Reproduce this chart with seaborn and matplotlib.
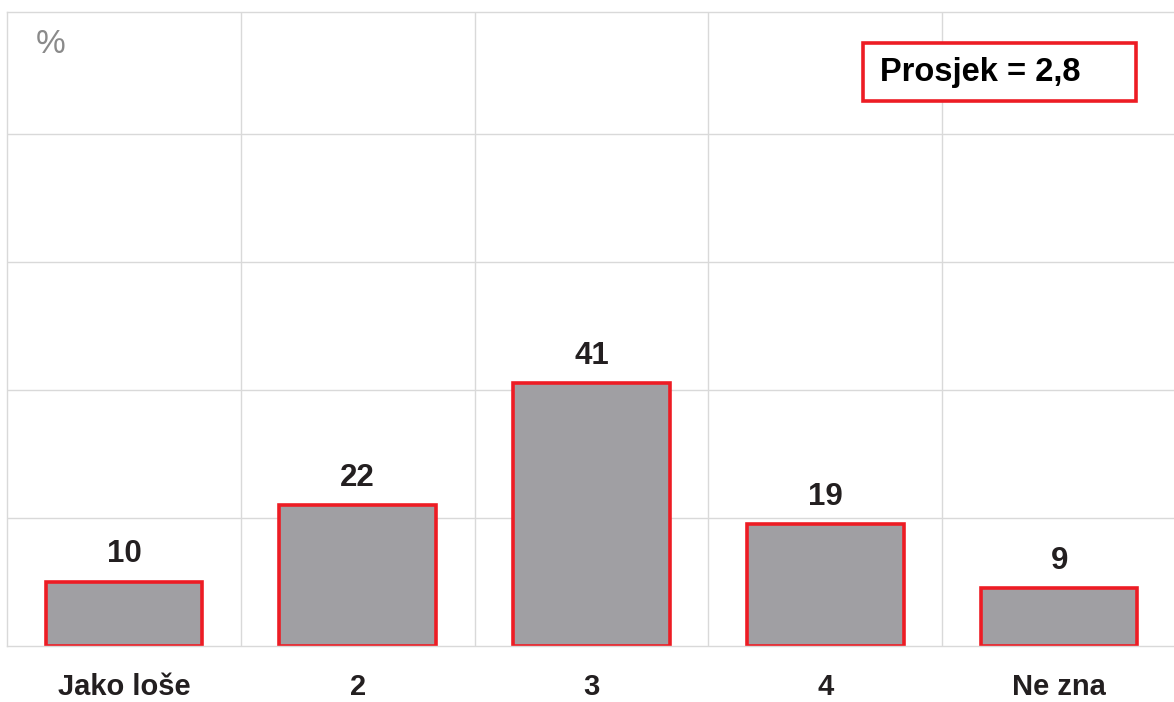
import matplotlib
matplotlib.use("Agg")
import matplotlib.pyplot as plt
import matplotlib.patches as mpatches
import seaborn as sns
import pandas as pd

categories = ["Jako loše", "2", "3", "4", "Ne zna"]
values = [10, 22, 41, 19, 9]
mean_label = "Prosjek = 2,8"
unit_label = "%"

sns.set_theme(style="white")
plt.rcParams["font.family"] = ["Liberation Sans", "DejaVu Sans"]

df = pd.DataFrame({"cat": categories, "val": values})

fig = plt.figure(figsize=(11.74, 7.02), dpi=100)
ax = fig.add_axes([7 / 1174, 56 / 702, 1169 / 1174, 634 / 702])

sns.barplot(data=df, x="cat", y="val", ax=ax, color="#a09fa3",
            edgecolor="#ed1c24", linewidth=2.6, width=0.67, saturation=1)

ax.set_xlim(-0.5, 4.5)
ax.set_ylim(0, 99)
ax.set_yticks([20, 40, 60, 80])
ax.set_xticks([0.5, 1.5, 2.5, 3.5], minor=True)
ax.grid(False)
ax.yaxis.grid(True, color="#d9d9d9", linewidth=1)
ax.xaxis.grid(True, which="minor", color="#d9d9d9", linewidth=1)
ax.set_axisbelow(True)
ax.tick_params(axis="y", left=False, labelleft=False)
ax.tick_params(axis="x", which="both", bottom=False, pad=13.5)
for lbl in ax.get_xticklabels():
    lbl.set_fontweight("bold")
    lbl.set_fontsize(21)
    lbl.set_color("#231f20")
ax.set_xlabel("")
ax.set_ylabel("")
for s in ax.spines.values():
    s.set_color("#d9d9d9")
    s.set_linewidth(1)
ax.spines["right"].set_visible(False)

for cont in ax.containers:
    ax.bar_label(cont, labels=[str(v) for v in values], padding=9,
                 fontsize=22.5, fontweight="bold", color="#231f20")

ax.text(0.037, 0.948, unit_label, transform=ax.transAxes, ha="center",
        va="center", fontsize=24, color="#8a8a8a")

rect = mpatches.Rectangle((0.732, 0.8596), 0.2335, 0.0915, transform=ax.transAxes,
                          facecolor="white", edgecolor="#ed1c24", linewidth=2.6,
                          zorder=5)
ax.add_patch(rect)
ax.text(0.747, 0.905, mean_label, transform=ax.transAxes, ha="left",
        va="center", fontsize=23.5, fontweight="bold", color="black", zorder=6)

fig.savefig("out.png", dpi=100)
